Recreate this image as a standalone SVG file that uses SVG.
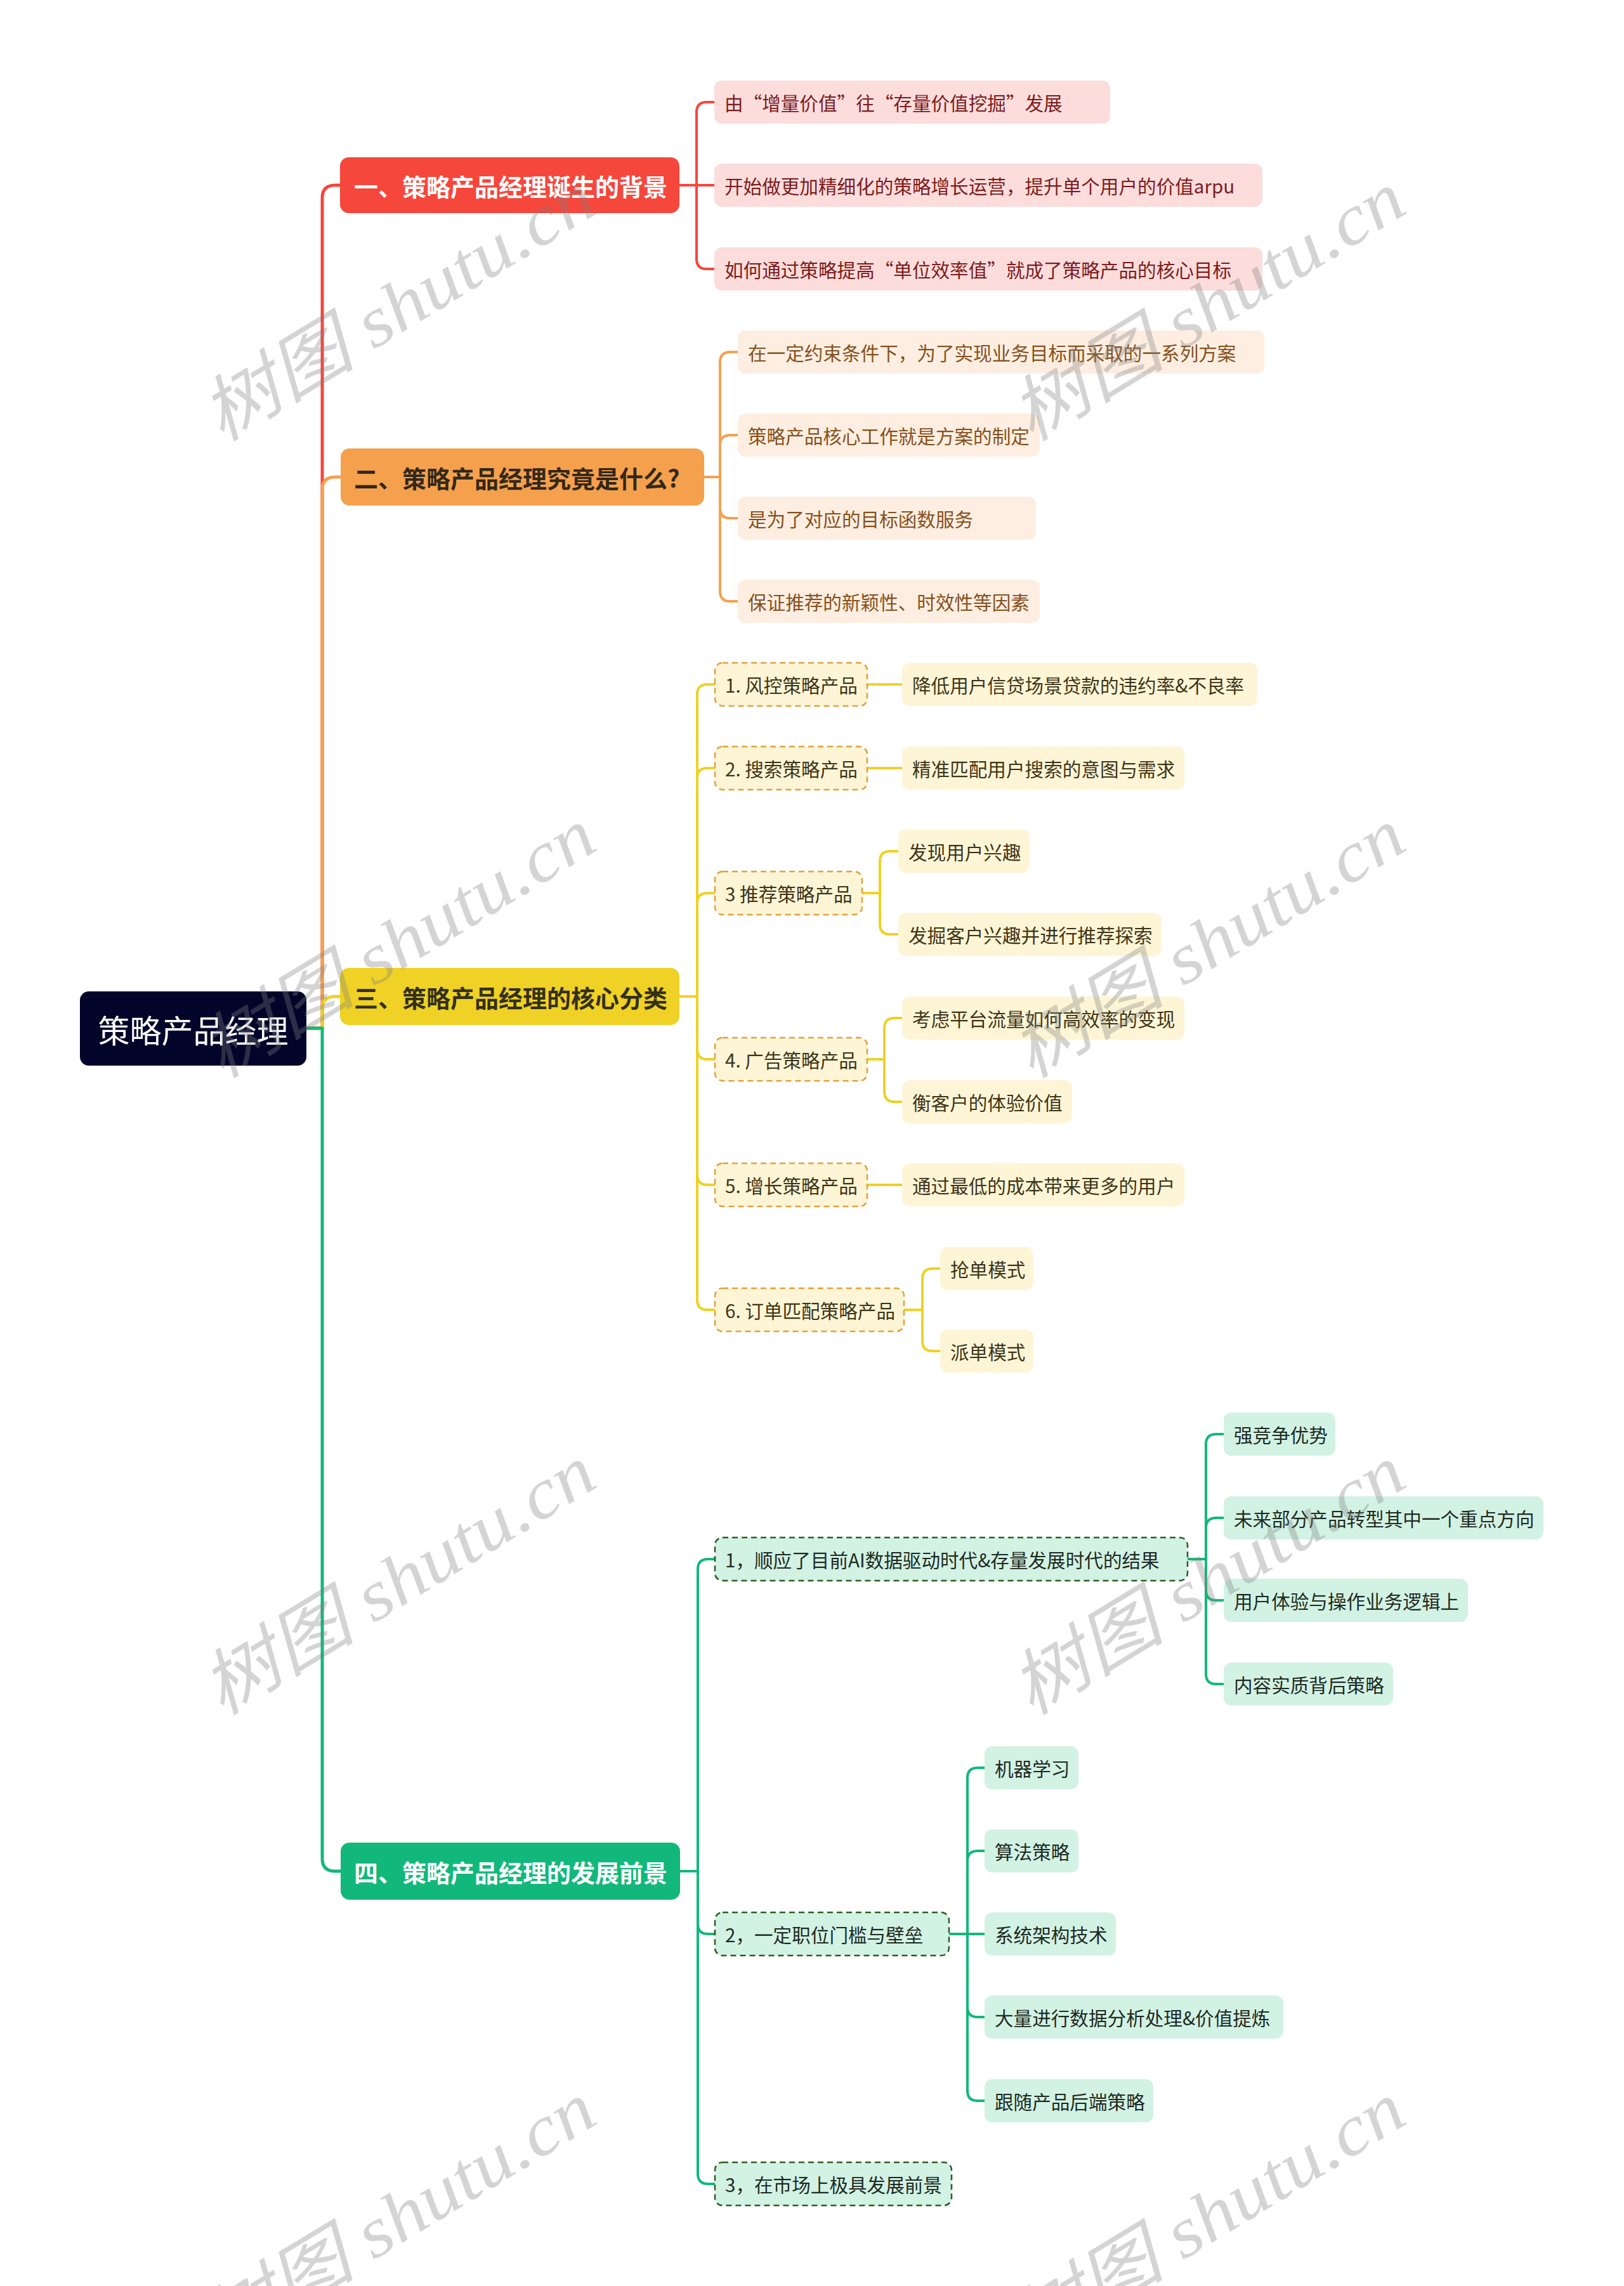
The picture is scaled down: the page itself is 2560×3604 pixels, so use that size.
<svg xmlns="http://www.w3.org/2000/svg" width="2560" height="3604" viewBox="0 0 2560 3604">
<style>
text{font-family:"Noto Sans CJK SC","Noto Sans",sans-serif;dominant-baseline:central}
.root{font-size:50px;fill:#ffffff}
.bt{font-size:38px;font-weight:bold}
.ct{font-size:29.6px}
.c{fill:none;stroke-linecap:round;stroke-linejoin:round}
.cr{stroke:#f5473c}.co{stroke:#f5a04d}.cy{stroke:#f0d125}.cg{stroke:#12b87b}
.m{stroke-width:5}.s{stroke-width:4}
.pr{fill:#fddcdc}.po{fill:#fdeee1}.py{fill:#fdf5d5}.pg{fill:#d2f2e4}
.dy{fill:#fdf5d5;stroke:#e2a13c;stroke-width:2.5;stroke-dasharray:9 6}
.dg{fill:#d2f2e4;stroke:#2e5d22;stroke-width:2.5;stroke-dasharray:9 6}
.tr{fill:#7b1c1c}.to{fill:#86501c}.ty{fill:#3d3418}.tg{fill:#1e2a22}
.wm{font-family:"Liberation Serif","Noto Sans CJK SC",serif;font-style:italic;font-size:112px;fill:#808080;opacity:0.33;dominant-baseline:auto}
</style>
<rect width="2560" height="3604" fill="#ffffff"/>

<g id="connectors">
<path class="c cr m" d="M483,1621 H508 V312 Q508,292 528,292 H537"/>
<path class="c co m" d="M483,1621 H508 V772 Q508,752 528,752 H537"/>
<path class="c cy m" d="M483,1621 H508 V1591 Q508,1571 528,1571 H537"/>
<path class="c cg m" d="M483,1621 H508 V2930 Q508,2950 528,2950 H537"/>

<path class="c cr s" d="M1071,292 H1098 V177 Q1098,161 1114,161 H1126"/>
<path class="c cr s" d="M1071,292 H1126"/>
<path class="c cr s" d="M1071,292 H1098 V408 Q1098,424 1114,424 H1126"/>

<path class="c co s" d="M1108,752 H1135 V571 Q1135,555 1151,555 H1163"/>
<path class="c co s" d="M1108,752 H1135 V702 Q1135,686 1151,686 H1163"/>
<path class="c co s" d="M1108,752 H1135 V801 Q1135,817 1151,817 H1163"/>
<path class="c co s" d="M1108,752 H1135 V932 Q1135,948 1151,948 H1163"/>

<path class="c cy s" d="M1071,1571 H1099 V1095 Q1099,1079 1115,1079 H1127"/>
<path class="c cy s" d="M1071,1571 H1099 V1227 Q1099,1211 1115,1211 H1127"/>
<path class="c cy s" d="M1071,1571 H1099 V1424 Q1099,1408 1115,1408 H1127"/>
<path class="c cy s" d="M1071,1571 H1099 V1654 Q1099,1670 1115,1670 H1127"/>
<path class="c cy s" d="M1071,1571 H1099 V1852 Q1099,1868 1115,1868 H1127"/>
<path class="c cy s" d="M1071,1571 H1099 V2049 Q1099,2065 1115,2065 H1127"/>

<path class="c cy s" d="M1367,1079 H1422"/>
<path class="c cy s" d="M1367,1211 H1422"/>
<path class="c cy s" d="M1359,1408 H1387 V1358 Q1387,1342 1403,1342 H1416"/>
<path class="c cy s" d="M1359,1408 H1387 V1457 Q1387,1473 1403,1473 H1416"/>
<path class="c cy s" d="M1367,1670 H1394 V1621 Q1394,1605 1410,1605 H1422"/>
<path class="c cy s" d="M1367,1670 H1394 V1721 Q1394,1737 1410,1737 H1422"/>
<path class="c cy s" d="M1367,1868 H1422"/>
<path class="c cy s" d="M1425,2065 H1454 V2016 Q1454,2000 1470,2000 H1482"/>
<path class="c cy s" d="M1425,2065 H1454 V2114 Q1454,2130 1470,2130 H1482"/>

<path class="c cg s" d="M1072,2950 H1100 V2474 Q1100,2458 1116,2458 H1127"/>
<path class="c cg s" d="M1072,2950 H1100 V3033 Q1100,3049 1116,3049 H1127"/>
<path class="c cg s" d="M1072,2950 H1100 V3427 Q1100,3443 1116,3443 H1127"/>

<path class="c cg s" d="M1872,2458 H1901 V2277 Q1901,2261 1917,2261 H1929"/>
<path class="c cg s" d="M1872,2458 H1901 V2409 Q1901,2393 1917,2393 H1929"/>
<path class="c cg s" d="M1872,2458 H1901 V2507 Q1901,2523 1917,2523 H1929"/>
<path class="c cg s" d="M1872,2458 H1901 V2639 Q1901,2655 1917,2655 H1929"/>

<path class="c cg s" d="M1496,3049 H1525 V2803 Q1525,2787 1541,2787 H1552"/>
<path class="c cg s" d="M1496,3049 H1525 V2934 Q1525,2918 1541,2918 H1552"/>
<path class="c cg s" d="M1496,3049 H1552"/>
<path class="c cg s" d="M1496,3049 H1525 V3164 Q1525,3180 1541,3180 H1552"/>
<path class="c cg s" d="M1496,3049 H1525 V3296 Q1525,3312 1541,3312 H1552"/>
</g>

<g id="root">
<rect x="126" y="1563" width="357" height="117" rx="14" fill="#03042a"/>
<text class="root" x="304.5" y="1622" text-anchor="middle">策略产品经理</text>
</g>

<g id="b1">
<rect x="536" y="248" width="535" height="88" rx="14" fill="#f5473c"/>
<text class="bt" x="558" y="292" fill="#ffffff">一、策略产品经理诞生的背景</text>
</g>
<g id="b1-1"><rect class="pr" x="1126" y="127" width="624" height="68" rx="12"/><text class="ct tr" x="1142" y="161">由“增量价值”往“存量价值挖掘”发展</text></g>
<g id="b1-2"><rect class="pr" x="1126" y="258" width="864" height="68" rx="12"/><text class="ct tr" x="1142" y="292">开始做更加精细化的策略增长运营，提升单个用户的价值arpu</text></g>
<g id="b1-3"><rect class="pr" x="1126" y="390" width="864" height="68" rx="12"/><text class="ct tr" x="1142" y="424">如何通过策略提高“单位效率值”就成了策略产品的核心目标</text></g>

<g id="b2">
<rect x="537" y="707" width="573" height="90" rx="14" fill="#f5a04d"/>
<text class="bt" x="558" y="752" fill="#33281a">二、策略产品经理究竟是什么?</text>
</g>
<g id="b2-1"><rect class="po" x="1163" y="521" width="830" height="68" rx="12"/><text class="ct to" x="1179" y="555">在一定约束条件下，为了实现业务目标而采取的一系列方案</text></g>
<g id="b2-2"><rect class="po" x="1163" y="652" width="476" height="68" rx="12"/><text class="ct to" x="1179" y="686">策略产品核心工作就是方案的制定</text></g>
<g id="b2-3"><rect class="po" x="1163" y="783" width="470" height="68" rx="12"/><text class="ct to" x="1179" y="817">是为了对应的目标函数服务</text></g>
<g id="b2-4"><rect class="po" x="1163" y="914" width="476" height="68" rx="12"/><text class="ct to" x="1179" y="948">保证推荐的新颖性、时效性等因素</text></g>

<g id="b3">
<rect x="536" y="1526" width="535" height="90" rx="14" fill="#f0d125"/>
<text class="bt" x="558" y="1571" fill="#33301a">三、策略产品经理的核心分类</text>
</g>
<g id="b3-1"><rect class="dy" x="1127" y="1045" width="240" height="68" rx="12"/><text class="ct ty" x="1143" y="1079">1. 风控策略产品</text></g>
<g id="b3-1-1"><rect class="py" x="1422" y="1045" width="560" height="68" rx="12"/><text class="ct ty" x="1438" y="1079">降低用户信贷场景贷款的违约率&amp;不良率</text></g>
<g id="b3-2"><rect class="dy" x="1127" y="1177" width="240" height="68" rx="12"/><text class="ct ty" x="1143" y="1211">2. 搜索策略产品</text></g>
<g id="b3-2-1"><rect class="py" x="1422" y="1177" width="445" height="68" rx="12"/><text class="ct ty" x="1438" y="1211">精准匹配用户搜索的意图与需求</text></g>
<g id="b3-3"><rect class="dy" x="1127" y="1374" width="232" height="68" rx="12"/><text class="ct ty" x="1143" y="1408">3 推荐策略产品</text></g>
<g id="b3-3-1"><rect class="py" x="1416" y="1308" width="207" height="68" rx="12"/><text class="ct ty" x="1432" y="1342">发现用户兴趣</text></g>
<g id="b3-3-2"><rect class="py" x="1416" y="1439" width="415" height="68" rx="12"/><text class="ct ty" x="1432" y="1473">发掘客户兴趣并进行推荐探索</text></g>
<g id="b3-4"><rect class="dy" x="1127" y="1636" width="240" height="68" rx="12"/><text class="ct ty" x="1143" y="1670">4. 广告策略产品</text></g>
<g id="b3-4-1"><rect class="py" x="1422" y="1571" width="445" height="68" rx="12"/><text class="ct ty" x="1438" y="1605">考虑平台流量如何高效率的变现</text></g>
<g id="b3-4-2"><rect class="py" x="1422" y="1703" width="268" height="68" rx="12"/><text class="ct ty" x="1438" y="1737">衡客户的体验价值</text></g>
<g id="b3-5"><rect class="dy" x="1127" y="1834" width="240" height="68" rx="12"/><text class="ct ty" x="1143" y="1868">5. 增长策略产品</text></g>
<g id="b3-5-1"><rect class="py" x="1422" y="1834" width="445" height="68" rx="12"/><text class="ct ty" x="1438" y="1868">通过最低的成本带来更多的用户</text></g>
<g id="b3-6"><rect class="dy" x="1127" y="2031" width="298" height="68" rx="12"/><text class="ct ty" x="1143" y="2065">6. 订单匹配策略产品</text></g>
<g id="b3-6-1"><rect class="py" x="1482" y="1966" width="147" height="68" rx="12"/><text class="ct ty" x="1498" y="2000">抢单模式</text></g>
<g id="b3-6-2"><rect class="py" x="1482" y="2096" width="147" height="68" rx="12"/><text class="ct ty" x="1498" y="2130">派单模式</text></g>

<g id="b4">
<rect x="537" y="2905" width="535" height="90" rx="14" fill="#12b87b"/>
<text class="bt" x="558" y="2950" fill="#ffffff">四、策略产品经理的发展前景</text>
</g>
<g id="b4-1"><rect class="dg" x="1127" y="2424" width="745" height="68" rx="12"/><text class="ct tg" x="1143" y="2458">1，顺应了目前AI数据驱动时代&amp;存量发展时代的结果</text></g>
<g id="b4-1-1"><rect class="pg" x="1929" y="2227" width="176" height="68" rx="12"/><text class="ct tg" x="1945" y="2261">强竞争优势</text></g>
<g id="b4-1-2"><rect class="pg" x="1929" y="2359" width="504" height="68" rx="12"/><text class="ct tg" x="1945" y="2393">未来部分产品转型其中一个重点方向</text></g>
<g id="b4-1-3"><rect class="pg" x="1929" y="2489" width="385" height="68" rx="12"/><text class="ct tg" x="1945" y="2523">用户体验与操作业务逻辑上</text></g>
<g id="b4-1-4"><rect class="pg" x="1929" y="2621" width="267" height="68" rx="12"/><text class="ct tg" x="1945" y="2655">内容实质背后策略</text></g>
<g id="b4-2"><rect class="dg" x="1127" y="3015" width="369" height="68" rx="12"/><text class="ct tg" x="1143" y="3049">2，一定职位门槛与壁垒</text></g>
<g id="b4-2-1"><rect class="pg" x="1552" y="2753" width="148" height="68" rx="12"/><text class="ct tg" x="1568" y="2787">机器学习</text></g>
<g id="b4-2-2"><rect class="pg" x="1552" y="2884" width="148" height="68" rx="12"/><text class="ct tg" x="1568" y="2918">算法策略</text></g>
<g id="b4-2-3"><rect class="pg" x="1552" y="3015" width="207" height="68" rx="12"/><text class="ct tg" x="1568" y="3049">系统架构技术</text></g>
<g id="b4-2-4"><rect class="pg" x="1552" y="3146" width="471" height="68" rx="12"/><text class="ct tg" x="1568" y="3180">大量进行数据分析处理&amp;价值提炼</text></g>
<g id="b4-2-5"><rect class="pg" x="1552" y="3278" width="266" height="68" rx="12"/><text class="ct tg" x="1568" y="3312">跟随产品后端策略</text></g>
<g id="b4-3"><rect class="dg" x="1127" y="3409" width="373" height="68" rx="12"/><text class="ct tg" x="1143" y="3443">3，在市场上极具发展前景</text></g>

<g id="watermarks">
<text class="wm" transform="translate(349,698) rotate(-31.4)" textLength="700" lengthAdjust="spacingAndGlyphs">树图 shutu.cn</text>
<text class="wm" transform="translate(1625,698) rotate(-31.4)" textLength="700" lengthAdjust="spacingAndGlyphs">树图 shutu.cn</text>
<text class="wm" transform="translate(349,1702) rotate(-31.4)" textLength="700" lengthAdjust="spacingAndGlyphs">树图 shutu.cn</text>
<text class="wm" transform="translate(1625,1702) rotate(-31.4)" textLength="700" lengthAdjust="spacingAndGlyphs">树图 shutu.cn</text>
<text class="wm" transform="translate(349,2706) rotate(-31.4)" textLength="700" lengthAdjust="spacingAndGlyphs">树图 shutu.cn</text>
<text class="wm" transform="translate(1625,2706) rotate(-31.4)" textLength="700" lengthAdjust="spacingAndGlyphs">树图 shutu.cn</text>
<text class="wm" transform="translate(349,3710) rotate(-31.4)" textLength="700" lengthAdjust="spacingAndGlyphs">树图 shutu.cn</text>
<text class="wm" transform="translate(1625,3710) rotate(-31.4)" textLength="700" lengthAdjust="spacingAndGlyphs">树图 shutu.cn</text>
</g>
</svg>
